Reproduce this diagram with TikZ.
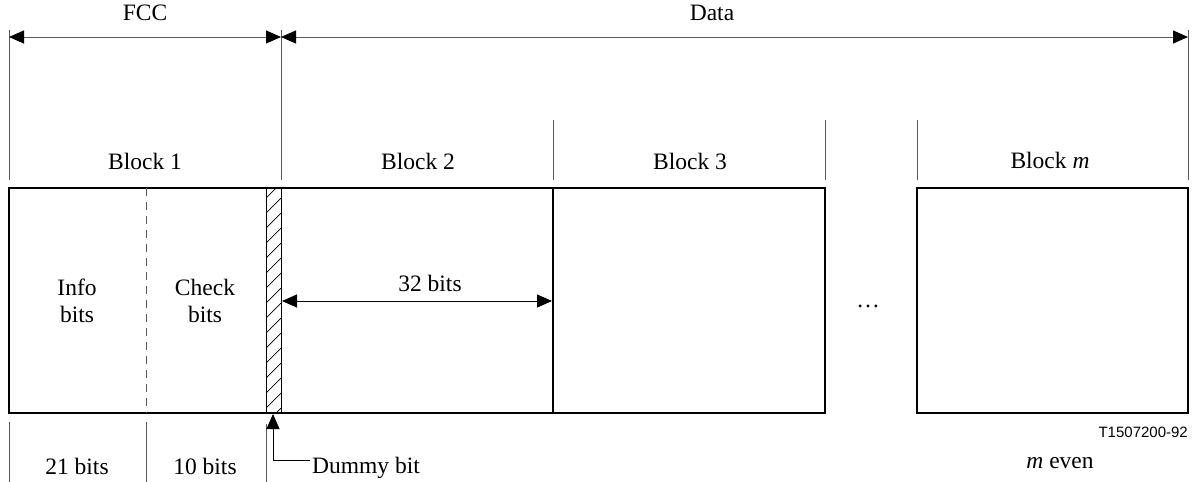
\documentclass[tikz,border=0pt]{standalone}
\usepackage{fontspec}
\setmainfont{Liberation Serif}
\newfontfamily\numfont{Liberation Sans}
\usetikzlibrary{arrows.meta}
\begin{document}
\begin{tikzpicture}[x=1pt,y=-1pt,
  thin line/.style={draw=black!65,line width=1pt},
  box line/.style={draw=black,line width=1.2pt},
  tip/.style={Triangle[length=15pt,width=13pt,color=black,fill=black]},
  dim/.style={thin line,{Triangle[length=15pt,width=13pt,color=black,fill=black]}-{Triangle[length=15pt,width=13pt,color=black,fill=black]}},
  lbl/.style={font=\fontsize{23.5}{27}\selectfont,inner sep=0pt,align=center},
  every node/.style={inner sep=0pt}]
\useasboundingbox (0,0) rectangle (1197,482);
% top dimension ticks
\coordinate (tL) at (9,37);
\coordinate (tM) at (281,37);
\coordinate (tR) at (1188,37);
\draw[thin line] (9,30) -- (9,180);
\draw[thin line] (281,30) -- (281,180);
\draw[thin line] (1188,30) -- (1188,180);
\draw[thin line] (553,120) -- (553,180);
\draw[thin line] (825,120) -- (825,180);
\draw[thin line] (917,120) -- (917,180);
\draw[dim] (tL) -- (tM);
\draw[dim] (tM) -- (tR);
\node[lbl] (fcc) at (145,13) {FCC};
\node[lbl] (data) at (712,13) {Data};
\node[lbl] (b1) at (145,161) {Block 1};
\node[lbl] (b2) at (418,161) {Block 2};
\node[lbl] (b3) at (690,161) {Block 3};
\node[lbl] (bm) at (1050,160) {Block \textit{m}};
% main boxes
\draw[box line] (9,188) rectangle (825,413);
\draw[box line] (917,188) rectangle (1188,413);
\draw[draw=black,line width=2pt] (553,188) -- (553,413);
\draw[thin line,dash pattern=on 8pt off 6pt] (146,188) -- (146,413);
% hatched dummy bit
\begin{scope}
\clip (266,188) rectangle (281,413);
\foreach \k in {0,...,16}{
  \draw[black,line width=0.7pt] (266,198+\k*15) -- (281,183+\k*15);
}
\end{scope}
\draw[draw=black,line width=1pt] (266,188) rectangle (281,413);
% 32 bits
\coordinate (aL) at (282,301);
\coordinate (aR) at (552,301);
\draw[dim,draw=black] (aL) -- (aR);
\node[lbl] (n32) at (430,283) {32 bits};
\node[lbl] (info) at (77,301) {Info\\bits};
\node[lbl] (check) at (205,301) {Check\\bits};
\node[lbl,anchor=base] (dots) at (868,307) {\ldots};
% bottom ticks
\draw[thin line] (9,422) -- (9,482);
\draw[thin line] (146,422) -- (146,482);
\draw[thin line] (266,424) -- (266,482);
\node[lbl] (b21) at (77,466) {21 bits};
\node[lbl] (b10) at (205,466) {10 bits};
% dummy bit pointer
\node[lbl,anchor=west] (dummy) at (312,468) {Dummy bit};
\coordinate (dtip) at (273,414);
\coordinate (dcorner) at (273,460);
\draw[draw=black,line width=0.9pt,-{Triangle[length=15pt,width=13pt,color=black,fill=black]}] (dummy.west |- dcorner) ++(-2,0) -- (dcorner) -- (dtip);
\node[font=\numfont\fontsize{15}{17}\selectfont,anchor=east] (code) at (1188,432) {T1507200-92};
\node[lbl] (meven) at (1060,463) {\textit{m} even};
\end{tikzpicture}
\end{document}
